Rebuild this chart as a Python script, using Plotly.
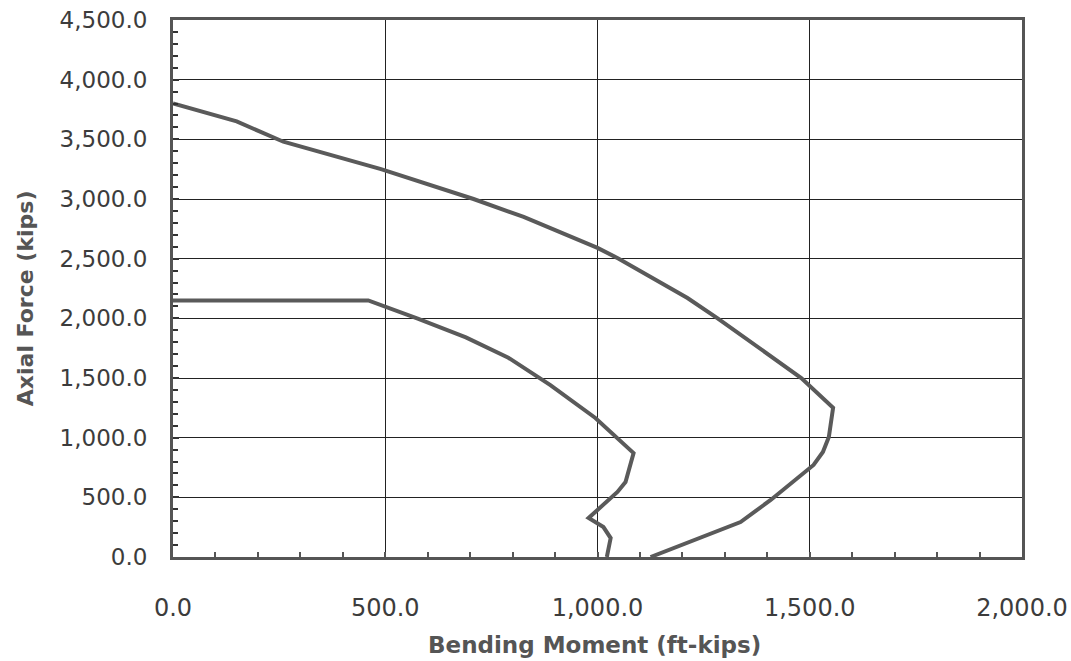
import plotly.graph_objects as go

# Outer interaction curve (Bending Moment ft-kips, Axial Force kips)
outer_m = [0, 150, 260, 490, 708, 826, 1000, 1050, 1212, 1283, 1480, 1555, 1545, 1531, 1509, 1408, 1337, 1226, 1125]
outer_p = [3800, 3650, 3480, 3250, 3000, 2850, 2590, 2500, 2170, 2000, 1500, 1250, 1006, 880, 771, 478, 293, 142, 0]

# Inner (design) interaction curve
inner_m = [0, 460, 575, 690, 790, 889, 995, 1085, 1066, 1047, 979, 1014, 1031, 1024, 1022]
inner_p = [2150, 2150, 2000, 1840, 1670, 1440, 1165, 871, 628, 545, 327, 251, 159, 34, 0]

x_ticks = [0, 500, 1000, 1500, 2000]
y_ticks = [0, 500, 1000, 1500, 2000, 2500, 3000, 3500, 4000, 4500]

x_title = "Bending Moment (ft-kips)"
y_title = "Axial Force (kips)"

curve_color = "#5a5a5a"
font_color = "#3c3c3c"
title_color = "#555555"
fam = "DejaVu Sans, Liberation Sans, Arial, sans-serif"

fig = go.Figure()
fig.add_trace(go.Scatter(x=outer_m, y=outer_p, mode="lines",
                         line=dict(color=curve_color, width=4), showlegend=False))
fig.add_trace(go.Scatter(x=inner_m, y=inner_p, mode="lines",
                         line=dict(color=curve_color, width=4), showlegend=False))

fig.update_layout(
    width=1071, height=661,
    margin=dict(l=173, r=49, t=20, b=104),
    paper_bgcolor="white", plot_bgcolor="white",
    font=dict(family=fam, size=22, color=font_color),
    showlegend=False,
)

fig.update_xaxes(
    range=[0, 2000], tickvals=x_ticks, tickformat=",.1f", automargin=False,
    tickfont=dict(family=fam, size=24, color=font_color),
    showgrid=True, gridcolor="#222", gridwidth=1,
    showline=True, linecolor="#555", linewidth=3, mirror=True,
    ticks="inside", ticklen=5, tickcolor="#555", tickwidth=2,
    minor=dict(dtick=100, ticks="inside", ticklen=5, tickcolor="#555", tickwidth=2, showgrid=False),
    ticklabelstandoff=27, zeroline=False,
)
fig.update_yaxes(
    range=[0, 4500], tickvals=y_ticks, tickformat=",.1f", automargin=False,
    tickfont=dict(family=fam, size=23, color=font_color),
    showgrid=True, gridcolor="#222", gridwidth=1,
    showline=True, linecolor="#555", linewidth=3, mirror=True,
    ticks="inside", ticklen=6, tickcolor="#333", tickwidth=2,
    minor=dict(dtick=100, ticks="inside", ticklen=5, tickcolor="#333", tickwidth=2, showgrid=False),
    ticklabelstandoff=18, zeroline=False,
)

fig.add_annotation(text="<b>" + x_title + "</b>", xref="paper", yref="paper",
                   x=0.496, y=-0.164, xanchor="center", yanchor="middle", showarrow=False,
                   font=dict(family=fam, size=23, color=title_color))
fig.add_annotation(text="<b>" + y_title + "</b>", xref="paper", yref="paper",
                   x=-0.1743, y=0.482, xanchor="center", yanchor="middle", showarrow=False,
                   textangle=-90, font=dict(family=fam, size=22, color=title_color))

fig.write_html("out.html")
